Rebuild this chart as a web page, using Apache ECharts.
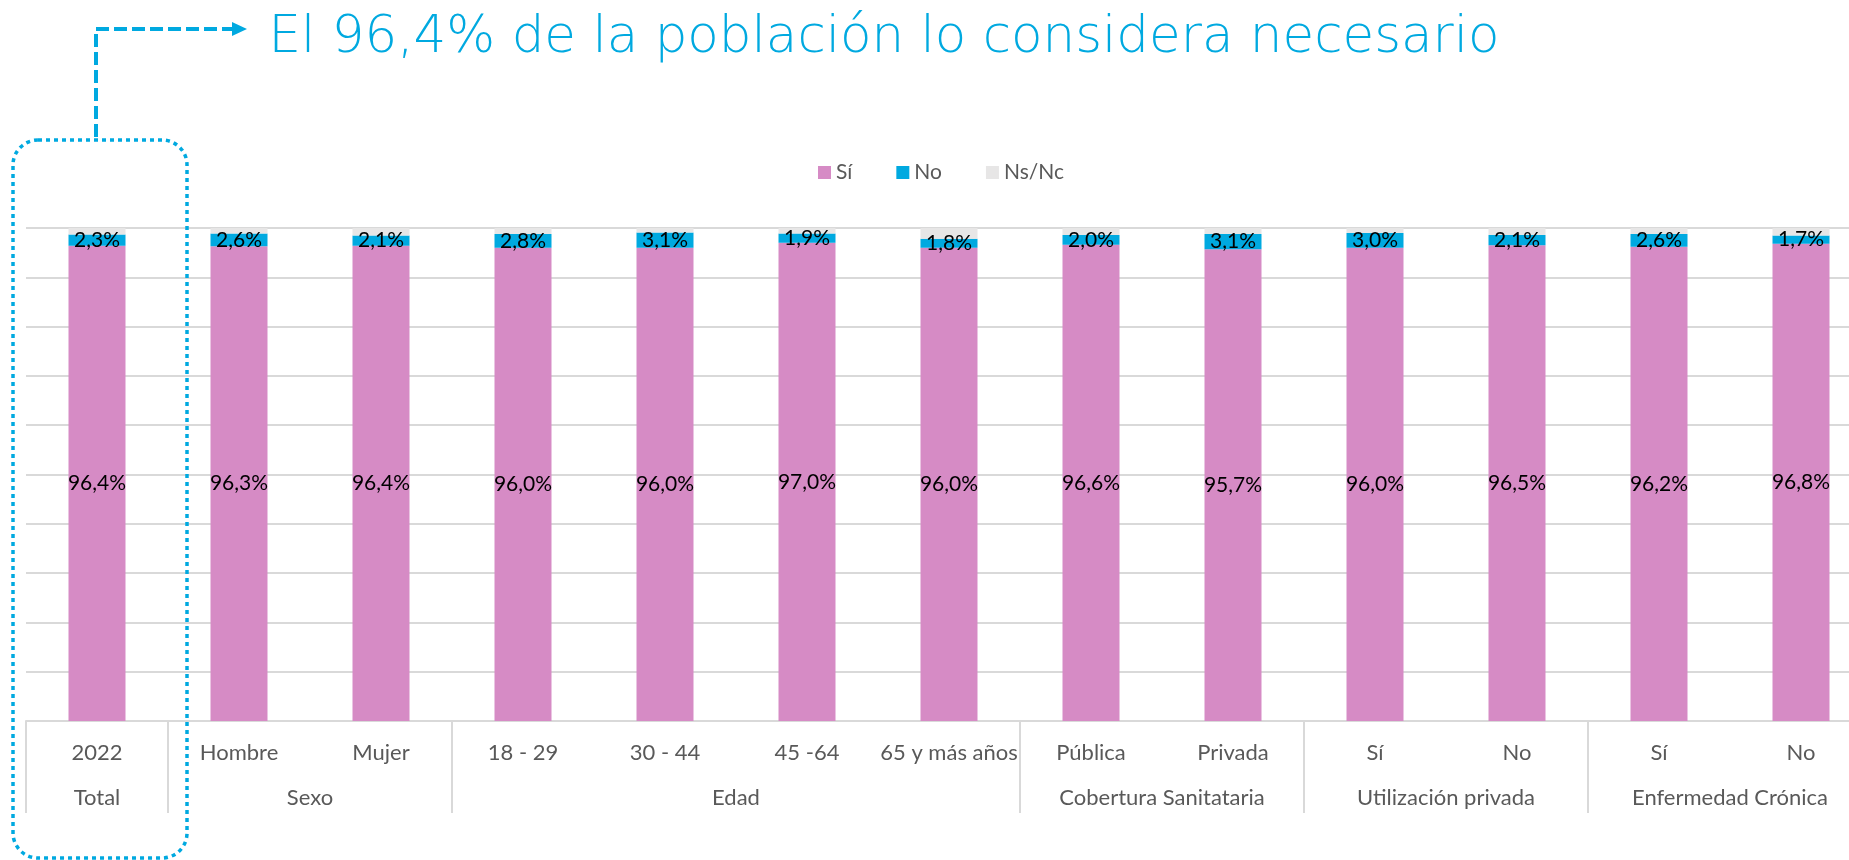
<!DOCTYPE html>
<html>
<head>
<meta charset="utf-8">
<script src="https://cdn.jsdelivr.net/npm/echarts@6/dist/echarts.min.js"></script>
<style>
html,body{margin:0;padding:0;background:#fff;}
#grafico{width:1849px;height:860px;}
</style>
</head>
<body>
<div id="grafico"></div>
<script>
//categorias del eje
var subcategorias = ['2022', 'Hombre', 'Mujer', '18 - 29', '30 - 44', '45 -64', '65 y más años', 'Pública', 'Privada', 'Sí', 'No', 'Sí', 'No'];
var grupos = ['Total', 'Sexo', 'Edad', 'Cobertura Sanitataria', 'Utilización privada', 'Enfermedad Crónica'];
var grupos_tamano = [1, 2, 4, 2, 2, 2];

//porcentajes
var serie_si = [96.4, 96.3, 96.4, 96.0, 96.0, 97.0, 96.0, 96.6, 95.7, 96.0, 96.5, 96.2, 96.8];
var serie_no = [2.3, 2.6, 2.1, 2.8, 3.1, 1.9, 1.8, 2.0, 3.1, 3.0, 2.1, 2.6, 1.7];
var serie_nsnc = [1.3, 1.1, 1.5, 1.2, 0.9, 1.1, 2.2, 1.4, 1.2, 1.0, 1.4, 1.2, 1.5];

var titulo = 'El 96,4% de la población lo considera necesario';

//eje de grupos: medio paso por categoria
var eje_grupos = [];
var eje_grupos_txt = {};
var cortes = [];
var pos = 0;
for (var i = 0; i <= subcategorias.length * 2; i++) {
    eje_grupos.push('g' + i);
}
for (var i = 0; i < grupos.length; i++) {
    cortes.push(2 * pos);
    eje_grupos_txt['g' + (2 * pos + grupos_tamano[i])] = grupos[i];
    pos += grupos_tamano[i];
}

function pct(p) {
    return p.value.toFixed(1).replace('.', ',') + '%';
}

var azul = '#00A9E0';
var fuente = 'Lato';

var myChart = echarts.init(document.getElementById('grafico'));
var option = {
    animation: false,
    legend: {
        data: ['Sí', 'No', 'Ns/Nc'],
        left: 813,
        top: 157,
        icon: 'rect',
        itemWidth: 13,
        itemHeight: 13,
        itemGap: 44,
        textStyle: {
            color: '#595959',
            fontSize: 21,
            fontFamily: fuente
        }
    },
    grid: {
        left: 26,
        top: 228,
        width: 1846,
        height: 493,
        outerBoundsMode: 'none'
    },
    xAxis: [
        {
            type: 'category',
            data: subcategorias,
            axisLine: {lineStyle: {color: '#D9D9D9', width: 2}},
            axisTick: {show: false},
            axisLabel: {
                interval: 0,
                margin: 21,
                color: '#595959',
                fontSize: 22,
                fontFamily: fuente
            }
        },
        {
            type: 'category',
            position: 'bottom',
            boundaryGap: false,
            data: eje_grupos,
            axisLine: {show: false},
            axisTick: {
                show: true,
                length: 92,
                interval: function (index) {
                    return cortes.indexOf(index) >= 0;
                },
                lineStyle: {color: '#D9D9D9', width: 2}
            },
            axisLabel: {
                interval: 0,
                margin: 66,
                color: '#595959',
                fontSize: 22,
                fontFamily: fuente,
                formatter: function (v) {
                    return eje_grupos_txt[v] || '';
                }
            }
        }
    ],
    yAxis: {
        type: 'value',
        min: 0,
        max: 100,
        interval: 10,
        axisLabel: {show: false},
        axisLine: {show: false},
        axisTick: {show: false},
        splitLine: {lineStyle: {color: '#D9D9D9', width: 2}}
    },
    series: [
        {
            name: 'Sí',
            type: 'bar',
            stack: 'total',
            barWidth: 57,
            data: serie_si,
            itemStyle: {color: '#D68BC5'},
            label: {
                show: true,
                position: 'inside',
                color: '#000',
                fontSize: 21,
                fontFamily: fuente,
                formatter: pct
            }
        },
        {
            name: 'No',
            type: 'bar',
            stack: 'total',
            barWidth: 57,
            data: serie_no,
            itemStyle: {color: azul},
            label: {
                show: true,
                position: 'inside',
                color: '#000',
                fontSize: 21,
                fontFamily: fuente,
                formatter: pct
            }
        },
        {
            name: 'Ns/Nc',
            type: 'bar',
            stack: 'total',
            barWidth: 57,
            data: serie_nsnc,
            itemStyle: {color: '#E7E6E6'}
        }
    ],
    graphic: [
        {   //titulo
            type: 'text',
            x: 884,
            y: 39,
            style: {
                text: titulo,
                fill: azul,
                font: '200 51.5px "DejaVu Sans"',
                textAlign: 'center',
                textVerticalAlign: 'middle'
            }
        },
        {   //flecha discontinua
            type: 'polyline',
            z: 100,
            shape: {points: [[96, 137], [96, 29], [233, 29]]},
            style: {stroke: azul, lineWidth: 4, lineDash: [13, 5], fill: null}
        },
        {
            type: 'polygon',
            z: 100,
            shape: {points: [[232, 22], [247, 29], [232, 36]]},
            style: {fill: azul}
        },
        {   //recuadro punteado del total
            type: 'rect',
            z: 100,
            shape: {x: 13, y: 140, width: 174, height: 718, r: 25},
            style: {stroke: azul, lineWidth: 3.5, lineDash: [4, 4], fill: null}
        }
    ]
};
myChart.setOption(option);
</script>
</body>
</html>
